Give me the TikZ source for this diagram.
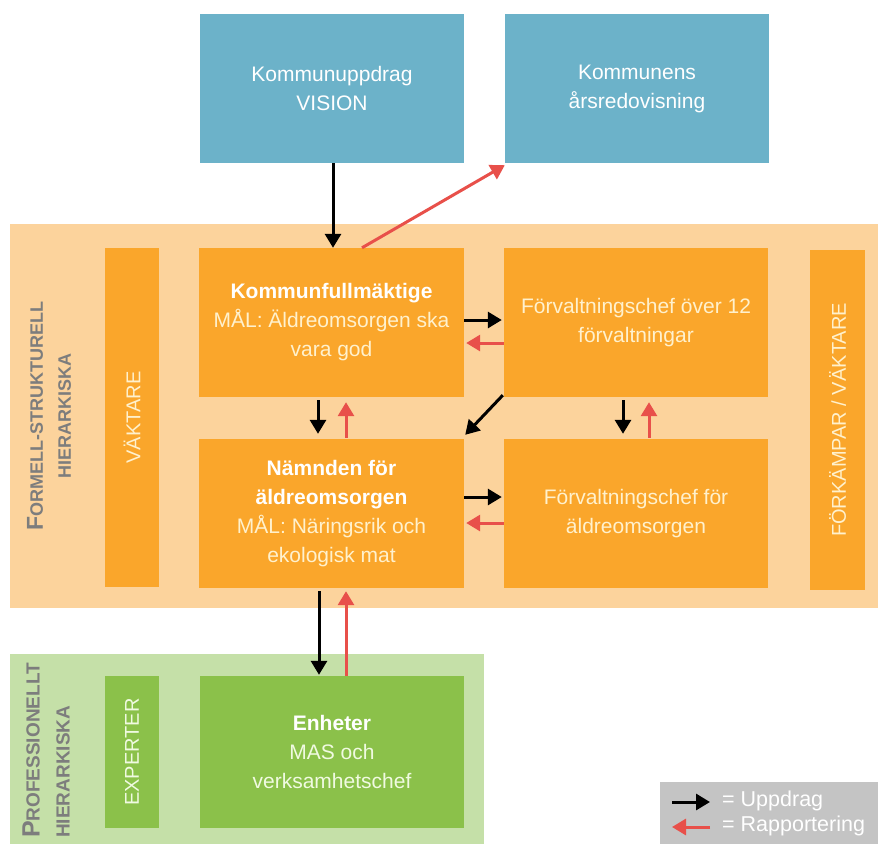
\documentclass[tikz,border=0pt]{standalone}
\usepackage{fontspec}
\setmainfont{Liberation Sans}
\usetikzlibrary{arrows.meta,calc}
\definecolor{bluebox}{RGB}{108,178,201}
\definecolor{orbg}{RGB}{252,211,156}
\definecolor{orbox}{RGB}{250,166,43}
\definecolor{grbg}{RGB}{197,224,168}
\definecolor{grbox}{RGB}{139,193,74}
\definecolor{legbg}{RGB}{196,196,196}
\definecolor{cream}{RGB}{255,241,205}
\definecolor{greencream}{RGB}{240,250,225}
\definecolor{labelgray}{RGB}{125,125,125}
\definecolor{redarrow}{RGB}{232,80,74}
\tikzset{
  box/.style={rectangle, inner sep=0pt, align=center, font=\fontsize{21}{29}\selectfont},
  bluestyle/.style={box, fill=bluebox, text=white, minimum width=264pt, minimum height=149pt},
  orstyle/.style={box, fill=orbox, text=cream, minimum width=265pt, minimum height=149pt},
  grstyle/.style={box, fill=grbox, text=greencream, minimum width=264pt, minimum height=152pt},
  barstyle/.style={rectangle, inner sep=0pt, rotate=90, font=\fontsize{20}{24}\selectfont},
  bgstyle/.style={rectangle, inner sep=0pt},
  grouplabel/.style={inner sep=0pt, rotate=90, text=labelgray, font=\bfseries\fontsize{18}{28}\selectfont},
  blk/.style={line width=3pt, draw=black, -{Triangle[length=14pt,width=16pt]}},
  rda/.style={line width=3pt, draw=redarrow, -{Triangle[length=14pt,width=16pt]}},
}
\begin{document}
\begin{tikzpicture}[x=1pt,y=-1pt]
\useasboundingbox (0,0) rectangle (878,844);
\fill[white] (0,0) rectangle (878,844);
% backgrounds
\node[bgstyle, fill=orbg, minimum width=868pt, minimum height=384pt] (orangebg) at (444,416) {};
\node[bgstyle, fill=grbg, minimum width=474pt, minimum height=190pt] (greenbg) at (247,749) {};
% top blue boxes
\node[bluestyle] (uppdrag) at (332,88.5) {Kommunuppdrag\\VISION};
\node[bluestyle] (arsred) at (637,88.5) {Kommunens\\årsredovisning};
% orange boxes
\node[orstyle] (kf) at (331.5,322.5) {\textcolor{white}{\bfseries Kommunfullmäktige}\\MÅL: Äldreomsorgen ska\\vara god};
\node[orstyle, minimum width=264pt] (fc12) at (636,322.5) {Förvaltningschef över 12\\förvaltningar};
\node[orstyle] (nd) at (331.5,513.5) {\textcolor{white}{\bfseries Nämnden för}\\\textcolor{white}{\bfseries äldreomsorgen}\\MÅL: Näringsrik och\\ekologisk mat};
\node[orstyle, minimum width=264pt] (fca) at (636,513.5) {Förvaltningschef för\\äldreomsorgen};
% side bars
\node[barstyle, fill=orbox, text=cream, minimum width=339pt, minimum height=54pt] (vaktare) at (132,417.5) {VÄKTARE};
\node[barstyle, fill=orbox, text=cream, minimum width=340pt, minimum height=55pt] (forkampar) at (837.5,420) {FÖRKÄMPAR / VÄKTARE};
% green boxes
\node[grstyle] (enh) at (332,752) {\textcolor{white}{\bfseries Enheter}\\MAS och\\verksamhetschef};
\node[barstyle, fill=grbox, text=greencream, minimum width=152pt, minimum height=54pt] (experter) at (132,752) {EXPERTER};
% group labels
\node[grouplabel, align=center] (formell) at (49,416) {{\fontsize{23}{28}\selectfont F}ORMELL-STRUKTURELL\\HIERARKISKA};
\node[grouplabel, align=left, anchor=south west, font=\bfseries\fontsize{19}{30}\selectfont] (prof) at (70,838) {{\fontsize{25}{30}\selectfont P}ROFESSIONELLT\\HIERARKISKA};
% legend
\node[bgstyle, fill=legbg, minimum width=218pt, minimum height=62pt] (legend) at (769,813) {};
\node[inner sep=0pt, anchor=west, text=white, font=\fontsize{21.5}{24}\selectfont] (legu) at (722,801) {= Uppdrag};
\node[inner sep=0pt, anchor=west, text=white, font=\fontsize{21.5}{24}\selectfont] (legr) at (722,826) {= Rapportering};
\draw[blk] ($(legu.west)+(-50,1)$) -- ($(legu.west)+(-12,1)$);
\draw[rda] ($(legr.west)+(-12,1)$) -- ($(legr.west)+(-50,1)$);
% arrows
\draw[blk] ($(uppdrag.south)+(1,0)$) -- ($(kf.north)+(1.5,0)$);
\draw[rda] ($(kf.north)+(30.5,0)$) -- ($(arsred.south west)+(0,2)$);
\draw[blk] ($(kf.east)+(0,-2.5)$) -- ($(fc12.west)+(-2,-2.5)$);
\draw[rda] ($(fc12.west)+(0,20.5)$) -- ($(kf.east)+(2,20.5)$);
\draw[blk] ($(kf.south)+(-13.5,3)$) -- ($(nd.north)+(-13.5,-5)$);
\draw[rda] ($(nd.north)+(14.5,-1)$) -- ($(kf.south)+(14.5,5)$);
\draw[blk] ($(fc12.south west)+(-1,-2)$) -- ($(nd.north east)+(1,-4)$);
\draw[blk] ($(fc12.south)+(-13,3)$) -- ($(fca.north)+(-13,-5)$);
\draw[rda] ($(fca.north)+(13,-1)$) -- ($(fc12.south)+(13,5)$);
\draw[blk] ($(nd.east)+(0,-16.5)$) -- ($(fca.west)+(-2,-16.5)$);
\draw[rda] ($(fca.west)+(0,9.5)$) -- ($(nd.east)+(2,9.5)$);
\draw[blk] ($(nd.south)+(-12.5,3)$) -- ($(enh.north)+(-13,-1)$);
\draw[rda] ($(enh.north)+(14,0)$) -- ($(nd.south)+(14.5,3)$);
\end{tikzpicture}
\end{document}
